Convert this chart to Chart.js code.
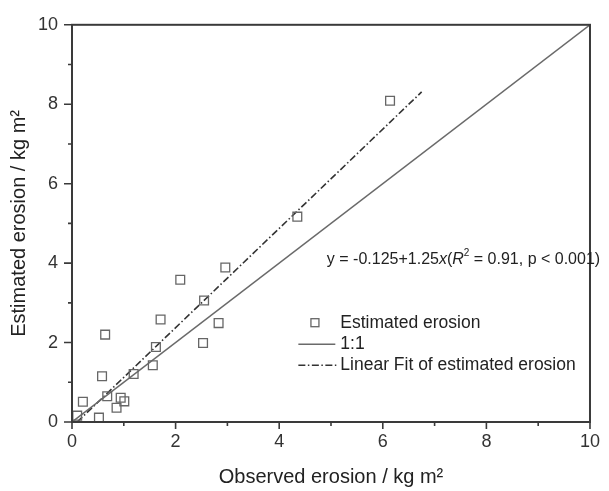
<!DOCTYPE html>
<html><head><meta charset="utf-8">
<script src="https://cdn.jsdelivr.net/npm/chart.js@4/dist/chart.umd.min.js"></script>
<style>html,body{margin:0;padding:0;background:#fff}#wrap{width:609px;height:491px;position:relative}</style>
</head><body><div id="wrap"><canvas id="c" width="609" height="491"></canvas></div>
<script>
// ---- data ----
const observed  = [0.10,0.21,0.52,0.58,0.64,0.68,0.86,0.94,1.01,1.19,1.56,1.62,1.71,2.09,2.53,2.55,2.83,2.96,4.35,6.14];
const estimated = [0.16,0.51,0.11,1.15,2.20,0.65,0.36,0.61,0.52,1.21,1.43,1.89,2.58,3.58,1.99,3.06,2.49,3.89,5.17,8.09];
const oneToOneX = [0,10];
const oneToOneY = [0,10];
const fitX = [0.10,6.75];
const fitY = [0.00,8.31];
const xTicks = [0,2,4,6,8,10];
const yTicks = [0,2,4,6,8,10];
const minorTicks = [1,3,5,7,9];
const seriesNames = ['Estimated erosion','1:1','Linear Fit of estimated erosion'];
const xTitle = 'Observed erosion / kg m\u00B2';
const yTitle = 'Estimated erosion / kg m\u00B2';
const eqParts = ['y = -0.125+1.25','x','(','R','2',' = 0.91, p < 0.001)'];

const FAM = '"Liberation Sans", Arial, sans-serif';
const toPts = (xs, ys) => xs.map((v,i)=>({x:v,y:ys[i]}));

const framePlugin = {
  id:'frame',
  afterDraw(chart){
    const {ctx, chartArea:a, scales:{x, y}} = chart;
    ctx.save();
    ctx.strokeStyle = '#3a3a3a';
    ctx.lineWidth = 2;
    ctx.strokeRect(a.left, a.top, a.right-a.left, a.bottom-a.top);
    ctx.lineWidth = 1.6;
    ctx.beginPath();
    xTicks.forEach(v=>{const p=x.getPixelForValue(v); ctx.moveTo(p,a.bottom); ctx.lineTo(p,a.bottom+7);});
    minorTicks.forEach(v=>{const p=x.getPixelForValue(v); ctx.moveTo(p,a.bottom); ctx.lineTo(p,a.bottom+4);});
    yTicks.forEach(v=>{const p=y.getPixelForValue(v); ctx.moveTo(a.left,p); ctx.lineTo(a.left-8,p);});
    minorTicks.forEach(v=>{const p=y.getPixelForValue(v); ctx.moveTo(a.left,p); ctx.lineTo(a.left-4,p);});
    ctx.stroke();

    // equation
    const f = '16px ' + FAM, fi = 'italic 16px ' + FAM, fs = '10px ' + FAM;
    let ex = x.getPixelForValue(4.92), ey = y.getPixelForValue(4.09);
    ctx.fillStyle = '#222';
    ctx.textBaseline = 'middle'; ctx.textAlign = 'left';
    const fonts = [f, fi, f, fi, fs, f];
    const dys = [0,0,0,0,-6,0];
    eqParts.forEach((t,i)=>{ctx.font=fonts[i]; ctx.fillText(t, ex, ey+dys[i]); ex += ctx.measureText(t).width;});

    // legend
    const lx = x.getPixelForValue(4.37), tx = x.getPixelForValue(5.18);
    const rows = [y.getPixelForValue(2.50), y.getPixelForValue(1.96), y.getPixelForValue(1.43)];
    ctx.font = '17.5px ' + FAM;
    ctx.strokeStyle = '#666'; ctx.lineWidth = 1.3; ctx.setLineDash([]);
    ctx.strokeRect(x.getPixelForValue(4.69)-4, rows[0]-4, 8, 8);
    ctx.strokeStyle = '#6a6a6a'; ctx.lineWidth = 1.5;
    ctx.beginPath(); ctx.moveTo(lx, rows[1]); ctx.lineTo(tx-5, rows[1]); ctx.stroke();
    ctx.strokeStyle = '#333'; ctx.lineWidth = 1.5; ctx.setLineDash([7,2.5,1.5,2.5]);
    ctx.beginPath(); ctx.moveTo(lx, rows[2]); ctx.lineTo(tx-4, rows[2]); ctx.stroke();
    ctx.setLineDash([]);
    ctx.fillStyle = '#222';
    seriesNames.forEach((n,i)=>ctx.fillText(n, tx, rows[i]));
    ctx.restore();
  }
};

new Chart(document.getElementById('c'), {
  type:'scatter',
  data:{datasets:[
    {label:seriesNames[0], data:toPts(observed, estimated), pointStyle:'rect', pointRadius:6.2,
     pointBorderWidth:1.3, borderColor:'#666', backgroundColor:'rgba(0,0,0,0)', pointHoverRadius:6.2},
    {label:seriesNames[1], data:toPts(oneToOneX, oneToOneY), showLine:true, pointRadius:0,
     borderColor:'#6a6a6a', borderWidth:1.5, fill:false},
    {label:seriesNames[2], data:toPts(fitX, fitY), showLine:true, pointRadius:0,
     borderColor:'#333', borderWidth:1.6, borderDash:[7,2.5,1.5,2.5], fill:false}
  ]},
  options:{
    responsive:false, animation:false, devicePixelRatio:1,
    layout:{padding:{left:0,top:14,right:9,bottom:0}},
    plugins:{legend:{display:false}, tooltip:{enabled:false}},
    scales:{
      x:{type:'linear', min:0, max:10,
         afterBuildTicks:s=>{s.ticks = xTicks.map(v=>({value:v}));},
         afterFit:s=>{s.height = 69;},
         ticks:{font:{family:FAM,size:18}, color:'#333', padding:9, maxRotation:0},
         grid:{display:false, drawTicks:false}, border:{display:false},
         title:{display:true, text:xTitle, font:{family:FAM,size:20}, color:'#222', padding:{top:0,bottom:2}}},
      y:{type:'linear', min:0, max:10,
         afterBuildTicks:s=>{s.ticks = yTicks.map(v=>({value:v}));},
         afterFit:s=>{s.width = 72;},
         ticks:{font:{family:FAM,size:18}, color:'#333', padding:14},
         grid:{display:false, drawTicks:false}, border:{display:false},
         title:{display:true, text:yTitle, font:{family:FAM,size:20}, color:'#222', padding:{top:7,bottom:0}}}
    }
  },
  plugins:[framePlugin]
});
</script></body></html>
